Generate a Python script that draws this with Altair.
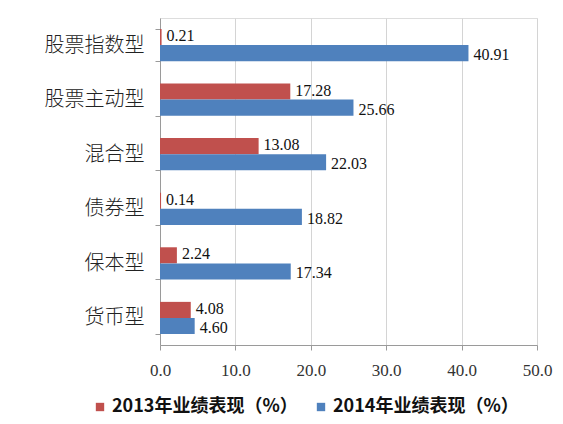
import pandas as pd
import altair as alt

# Data
categories = ['股票指数型', '股票主动型', '混合型', '债券型', '保本型', '货币型']
series = ['2013年业绩表现（%）', '2014年业绩表现（%）']
perf_2013 = [0.21, 17.28, 13.08, 0.14, 2.24, 4.08]
perf_2014 = [40.91, 25.66, 22.03, 18.82, 17.34, 4.60]
x_ticks = [0, 10, 20, 30, 40, 50]

rows = []
for cat, a, b in zip(categories, perf_2013, perf_2014):
    rows.append({'类型': cat, '系列': series[0], '值': a})
    rows.append({'类型': cat, '系列': series[1], '值': b})
df = pd.DataFrame(rows)

serif = 'Liberation Serif'
cjk = 'Noto Sans CJK SC'

y_enc = alt.Y('类型:N', sort=categories, title=None,
              scale=alt.Scale(paddingInner=0.41, paddingOuter=0.2),
              axis=alt.Axis(labelFont=cjk, labelFontSize=20, labelColor='#222222',
                            labelFontWeight=300, labelPadding=11,
                            domainColor='#9a9a9a', tickColor='#9a9a9a',
                            tickBand='extent', tickSize=5, grid=False))
x_enc = alt.X('值:Q', title=None,
              scale=alt.Scale(domain=[0, 50], nice=False),
              axis=alt.Axis(values=x_ticks, format='.1f', labelFont=serif,
                            labelFontSize=17, labelColor='#333333', labelPadding=12,
                            labelFlush=False,
                            domainColor='#9a9a9a', tickColor='#9a9a9a', tickSize=5,
                            grid=True, gridColor='#d4d4d4'))

color = alt.Color('系列:N', sort=series,
                  scale=alt.Scale(domain=series, range=['#C0504D', '#4F81BD']),
                  legend=alt.Legend(title=None, orient='none', direction='horizontal',
                                    legendX=-69, legendY=380,
                                    symbolType='square', symbolSize=70,
                                    symbolStrokeWidth=0,
                                    labelFont=cjk, labelFontSize=18,
                                    labelFontWeight='bold', labelColor='#111111',
                                    labelLimit=400, columnPadding=14, labelOffset=3))

base = alt.Chart(df).encode(
    y=y_enc,
    yOffset=alt.YOffset('系列:N', sort=series),
)

bars = base.mark_bar().encode(x=x_enc, color=color)

label_2013 = base.mark_text(align='left', baseline='middle', dx=5, dy=-1, fontSize=16,
                            font=serif, color='#111111').encode(
    x=alt.X('值:Q'),
    text=alt.Text('值:Q', format='.2f'),
).transform_filter(alt.datum['系列'] == series[0])

label_2014 = base.mark_text(align='left', baseline='middle', dx=5, dy=2, fontSize=16,
                            font=serif, color='#111111').encode(
    x=alt.X('值:Q'),
    text=alt.Text('值:Q', format='.2f'),
).transform_filter(alt.datum['系列'] == series[1])

chart = (bars + label_2013 + label_2014).properties(
    width=377,
    height=327,
    autosize=alt.AutoSizeParams(type='none'),
    padding={'left': 152, 'top': 10, 'right': 18, 'bottom': 78},
).configure_view(stroke=None).configure(background='white')

chart.save("out.html", embed_options={"renderer": "svg", "actions": False})
